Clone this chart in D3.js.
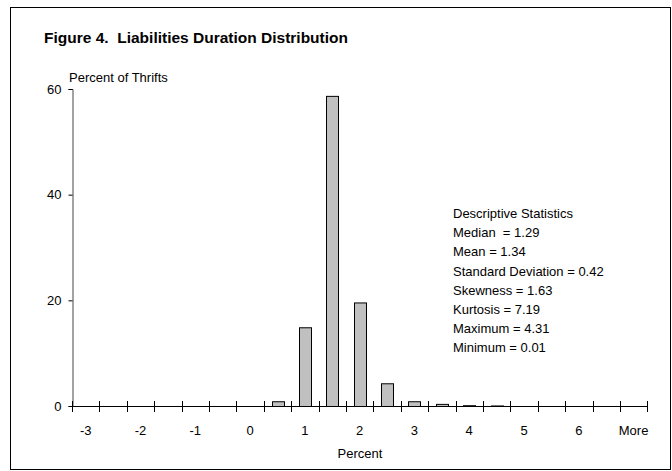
<!DOCTYPE html>
<html>
<head>
<meta charset="utf-8">
<script src="https://cdn.jsdelivr.net/npm/d3@7"></script>
<style>
  html, body { margin: 0; padding: 0; background: #fff; }
  svg { display: block; }
  text { font-family: Arial, "Liberation Sans", sans-serif; fill: #000; white-space: pre; }
</style>
</head>
<body>
<script>
// ---- Data ----
const categories = ["-3","-2.5","-2","-1.5","-1","-0.5","0","0.5","1","1.5","2","2.5","3","3.5","4","4.5","5","5.5","6","6.5","More"];
const values = [0,0,0,0,0,0,0,0.9,14.9,58.7,19.6,4.3,0.9,0.4,0.15,0.1,0,0,0,0,0];
const tickLabels = ["-3","-2","-1","0","1","2","3","4","5","6","More"];
const yTicks = [0,20,40,60];
const statsLines = [
  "Descriptive Statistics",
  "Median  = 1.29",
  "Mean = 1.34",
  "Standard Deviation = 0.42",
  "Skewness = 1.63",
  "Kurtosis = 7.19",
  "Maximum = 4.31",
  "Minimum = 0.01"
];
const title = "Figure 4.  Liabilities Duration Distribution";
const yTitle = "Percent of Thrifts";
const xTitle = "Percent";

// ---- Layout ----
const W = 672, H = 471;
const svg = d3.select("body").append("svg").attr("width", W).attr("height", H);

// outer frame
svg.append("rect")
  .attr("x", 10.5).attr("y", 7.5).attr("width", 660).attr("height", 462)
  .attr("fill", "none").attr("stroke", "#000").attr("stroke-width", 1);

const x = d3.scaleBand().domain(categories).range([72, 647.3])
  .paddingInner(0.565).paddingOuter(0.565 / 2);
const y = d3.scaleLinear().domain([0, 60]).range([406, 89]);

// title
svg.append("text").attr("x", 44).attr("y", 43)
  .attr("font-size", 15.5).attr("font-weight", "bold").text(title);

// y axis title
svg.append("text").attr("x", 69).attr("y", 82)
  .attr("font-size", 13).text(yTitle);

// bars
svg.append("g").selectAll("rect")
  .data(categories.map((c, i) => ({ c, v: values[i] })).filter(d => d.v > 0))
  .join("rect")
  .attr("x", d => Math.round(x(d.c)) + 0.5)
  .attr("y", d => y(d.v) + 0.5)
  .attr("width", Math.round(x.bandwidth()))
  .attr("height", d => Math.max(0, y(0) - y(d.v)))
  .attr("fill", "#c0c0c0").attr("stroke", "#000").attr("stroke-width", 1);

// y axis
const yAxis = d3.axisLeft(y).tickValues(yTicks).tickSize(4).tickPadding(7);
const gy = svg.append("g").attr("transform", "translate(72.5,0)").call(yAxis);
gy.select(".domain").attr("stroke", "#444");
gy.selectAll(".tick line").attr("stroke", "#000");
gy.selectAll(".tick text").attr("font-size", 13)
  .attr("font-family", "Arial, 'Liberation Sans', sans-serif").attr("fill", "#000");

// x axis line
const x0 = x.range()[0], x1 = x.range()[1];
svg.append("line").attr("x1", x0).attr("x2", x1)
  .attr("y1", y(0) + 0.5).attr("y2", y(0) + 0.5)
  .attr("stroke", "#000").attr("stroke-width", 1);

// x ticks at category boundaries (crossing the axis)
const step = x.step();
const boundaries = categories.map(c => x(c) - x.paddingOuter() * step).concat([x1]);
svg.append("g").selectAll("line").data(boundaries).join("line")
  .attr("x1", d => Math.round(d) + 0.5).attr("x2", d => Math.round(d) + 0.5)
  .attr("y1", y(0) - 5).attr("y2", y(0) + 6)
  .attr("stroke", "#000").attr("stroke-width", 1);

// x tick labels (every second category)
svg.append("g").selectAll("text").data(tickLabels).join("text")
  .attr("x", d => x(d) + x.bandwidth() / 2)
  .attr("y", 435)
  .attr("text-anchor", "middle").attr("font-size", 13)
  .text(d => d);

// x axis title
svg.append("text").attr("x", 360).attr("y", 458)
  .attr("text-anchor", "middle").attr("font-size", 13).text(xTitle);

// descriptive statistics
svg.append("g").selectAll("text").data(statsLines).join("text")
  .attr("x", 453).attr("y", (d, i) => 218 + i * 19.2)
  .attr("font-size", 13)
  .text(d => d);
</script>
</body>
</html>
